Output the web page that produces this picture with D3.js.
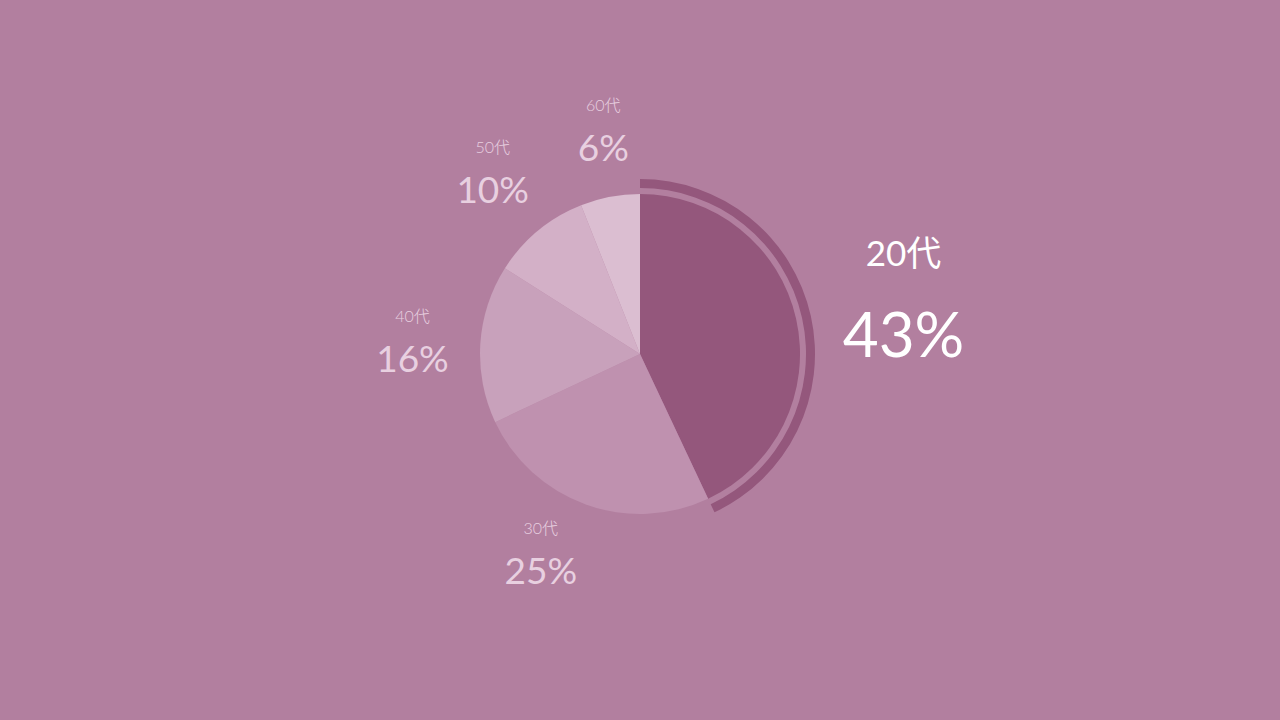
<!DOCTYPE html>
<html><head><meta charset="utf-8">
<script src="https://cdn.jsdelivr.net/npm/d3@7"></script>
<style>
html,body{margin:0;padding:0;background:#b27f9f;}
svg{display:block;}
</style></head>
<body>
<svg id="chart" width="1280" height="720"></svg>
<script>
const categories = ["20代", "30代", "40代", "50代", "60代"];
const values = [43, 25, 16, 10, 6];
const valueLabels = ["43%", "25%", "16%", "10%", "6%"];
const sliceColors = ["#94577c", "#bf91af", "#c8a1bb", "#d3b0c7", "#dbbed1"];

const W = 1280, H = 720;
const cx = 640, cy = 354, R = 160;
// small layout nudges for the outside labels (pixels)
const labelNudge = [[0, 0], [-22, -17], [0, 0], [-2, -7], [6, -1]];

const svg = d3.select("#chart");
svg.append("rect").attr("width", W).attr("height", H).attr("fill", "#b27f9f");

const data = categories.map((c, i) => ({cat: c, value: values[i], label: valueLabels[i], color: sliceColors[i], i}));
const pie = d3.pie().value(d => d.value).sort(null);
const arcs = pie(data);
const arc = d3.arc().innerRadius(0).outerRadius(R);

const g = svg.append("g").attr("transform", `translate(${cx},${cy})`);
g.selectAll("path.slice").data(arcs).join("path")
  .attr("class", "slice")
  .attr("d", arc)
  .attr("fill", d => d.data.color);

// highlight arc for the largest slice
const hl = arcs[0];
g.append("path")
  .attr("d", d3.arc().innerRadius(166).outerRadius(175).startAngle(hl.startAngle).endAngle(hl.endAngle)())
  .attr("fill", sliceColors[0]);

const fontFam = "Lato, 'Noto Sans CJK JP', 'Noto Sans', sans-serif";
arcs.forEach((a, i) => {
  const big = i === 0;
  const r = big ? 270 : 228;
  const c = d3.arc().innerRadius(r).outerRadius(r).centroid(a);
  const n = labelNudge[i];
  const lg = g.append("g").attr("transform", `translate(${c[0] + n[0]},${c[1] + n[1]})`);
  lg.append("text")
    .attr("text-anchor", "middle")
    .attr("y", big ? -29 : -18)
    .attr("font-family", fontFam)
    .attr("font-weight", big ? 400 : 300)
    .attr("font-size", big ? 35 : 16)
    .attr("fill", big ? "#ffffff" : "#e8d0e0")
    .text(a.data.cat);
  lg.append("text")
    .attr("text-anchor", "middle")
    .attr("y", big ? 62 : 32)
    .attr("font-family", fontFam)
    .attr("font-weight", 400)
    .attr("font-size", big ? 62 : 37)
    .attr("fill", big ? "#ffffff" : "#e8d0e0")
    .text(a.data.label);
});
</script>
</body></html>
